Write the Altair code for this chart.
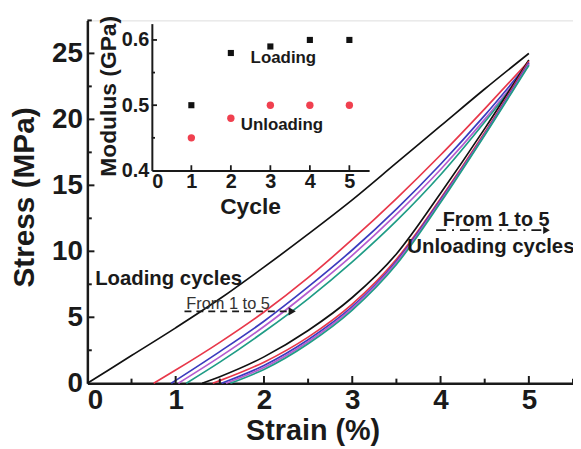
import altair as alt
import pandas as pd

# ---------------- main panel: stress-strain loading / unloading cycles ----------------
load1_strain = [0, 0.5, 1, 1.5, 2, 2.5, 3, 3.5, 4, 4.5, 5]
load1_stress = [0, 2.1, 4.2, 6.4, 8.8, 11.3, 13.9, 16.7, 19.5, 22.3, 25.0]

load2_strain = [0.75, 1, 1.5, 2, 2.5, 3, 3.5, 4, 4.5, 5]
load2_stress = [0, 1.0, 3.1, 5.4, 8.0, 10.9, 14.0, 17.3, 20.8, 24.4]

load3_strain = [0.95, 1.5, 2, 2.5, 3, 3.5, 4, 4.5, 5]
load3_stress = [0, 2.4, 4.7, 7.3, 10.1, 13.2, 16.6, 20.3, 24.3]

load4_strain = [1.03, 1.5, 2, 2.5, 3, 3.5, 4, 4.5, 5]
load4_stress = [0, 2.0, 4.3, 6.9, 9.7, 12.8, 16.2, 20.0, 24.2]

load5_strain = [1.12, 1.5, 2, 2.5, 3, 3.5, 4, 4.5, 5]
load5_stress = [0, 1.6, 3.9, 6.4, 9.2, 12.3, 15.8, 19.8, 24.1]

unload1_strain = [1.3, 1.5, 2, 2.5, 3, 3.5, 4, 4.5, 5]
unload1_stress = [0, 0.5, 2.0, 4.0, 6.5, 9.8, 14.4, 19.3, 24.5]

unload2_strain = [1.42, 1.5, 2, 2.5, 3, 3.5, 4, 4.5, 5]
unload2_stress = [0, 0.2, 1.6, 3.5, 6.0, 9.4, 14.0, 19.0, 24.4]

unload3_strain = [1.52, 2, 2.5, 3, 3.5, 4, 4.5, 5]
unload3_stress = [0, 1.35, 3.3, 5.8, 9.25, 13.9, 18.9, 24.3]

unload4_strain = [1.57, 2, 2.5, 3, 3.5, 4, 4.5, 5]
unload4_stress = [0, 1.2, 3.15, 5.7, 9.15, 13.8, 18.85, 24.2]

unload5_strain = [1.62, 2, 2.5, 3, 3.5, 4, 4.5, 5]
unload5_stress = [0, 1.05, 3.0, 5.55, 9.0, 13.7, 18.8, 24.1]

curve_names = ["load1", "load2", "load3", "load4", "load5",
               "unload1", "unload2", "unload3", "unload4", "unload5"]
curve_colors = ["#111111", "#e8384a", "#3b3bbf", "#b55ccf", "#1f9c86",
                "#111111", "#e8384a", "#3b3bbf", "#b55ccf", "#1f9c86"]

# axis tick values
x_major = [1, 2, 3, 4, 5]
x_minor = [0.5, 1.5, 2.5, 3.5, 4.5, 5.5]
y_major = [5, 10, 15, 20, 25]
y_minor = [2.5, 7.5, 12.5, 17.5, 22.5, 27.5]

# ---------------- inset: modulus vs cycle ----------------
cycles = [1, 2, 3, 4, 5]
modulus_loading = [0.50, 0.58, 0.59, 0.60, 0.60]
modulus_unloading = [0.45, 0.48, 0.50, 0.50, 0.50]
inset_x_ticks = [1, 2, 3, 4, 5]
inset_y_major = [0.5, 0.6]
inset_y_minor = [0.45, 0.55]

# ---------------- build tables ----------------
series = [
    (load1_strain, load1_stress), (load2_strain, load2_stress), (load3_strain, load3_stress),
    (load4_strain, load4_stress), (load5_strain, load5_stress),
    (unload1_strain, unload1_stress), (unload2_strain, unload2_stress),
    (unload3_strain, unload3_stress), (unload4_strain, unload4_stress),
    (unload5_strain, unload5_stress),
]
rows = []
for name, (xs, ys) in zip(curve_names, series):
    for i, (a, b) in enumerate(zip(xs, ys)):
        rows.append({"curve": name, "strain": a, "stress": b, "i": i})
curves_df = pd.DataFrame(rows)

FONT = "Liberation Sans"
INK = "#1a1a1a"
W, H = 489.5, 365.75

xs_main = alt.Scale(domain=[0, 5.5], nice=False, zero=False)
ys_main = alt.Scale(domain=[0, 27.5], nice=False, zero=False)

lines = alt.Chart(curves_df).mark_line(strokeWidth=1.7, interpolate="monotone").encode(
    x=alt.X("strain:Q", scale=xs_main,
            axis=alt.Axis(values=[0, 1, 2, 3, 4, 5], format="d", grid=False, ticks=False, tickSize=0,
                          labelFont=FONT, labelFontSize=28, labelFontWeight="bold", labelColor=INK,
                          labelPadding=3, domainColor=INK, domainWidth=2.5,
                          title="Strain (%)", titleFont=FONT, titleFontSize=29, titleFontWeight="bold",
                          titleColor=INK, titleX=227, titleY=57, titleBaseline="alphabetic")),
    y=alt.Y("stress:Q", scale=ys_main,
            axis=alt.Axis(values=[0, 5, 10, 15, 20, 25], format="d", grid=False, ticks=False, tickSize=0,
                          labelFont=FONT, labelFontSize=28, labelFontWeight="bold", labelColor=INK,
                          labelPadding=5, domainColor=INK, domainWidth=2.5,
                          title="Stress (MPa)", titleFont=FONT, titleFontSize=30, titleFontWeight="bold",
                          titleColor=INK, titleX=-54, titleY=178, titleBaseline="alphabetic")),
    color=alt.Color("curve:N", scale=alt.Scale(domain=curve_names, range=curve_colors), legend=None),
    order=alt.Order("i:Q"),
)

xt_major = alt.Chart(pd.DataFrame({"strain": x_major})).mark_rule(color=INK, strokeWidth=2).encode(
    x=alt.X("strain:Q", scale=xs_main), y=alt.Y(datum=0, scale=ys_main), y2=alt.Y2(datum=0.55))
xt_minor = alt.Chart(pd.DataFrame({"strain": x_minor})).mark_rule(color=INK, strokeWidth=2).encode(
    x=alt.X("strain:Q", scale=xs_main), y=alt.Y(datum=0, scale=ys_main), y2=alt.Y2(datum=0.35))
yt_major = alt.Chart(pd.DataFrame({"stress": y_major})).mark_rule(color=INK, strokeWidth=2).encode(
    y=alt.Y("stress:Q", scale=ys_main), x=alt.X(datum=0, scale=xs_main), x2=alt.X2(datum=0.08))
yt_minor = alt.Chart(pd.DataFrame({"stress": y_minor})).mark_rule(color=INK, strokeWidth=2).encode(
    y=alt.Y("stress:Q", scale=ys_main), x=alt.X(datum=0, scale=xs_main), x2=alt.X2(datum=0.05))

def main_text(label, sx, sy, size, weight="bold", align="center", color=INK):
    return alt.Chart(pd.DataFrame({"strain": [sx], "stress": [sy], "t": [label]})).mark_text(
        font=FONT, fontSize=size, fontWeight=weight, align=align, baseline="middle", color=color
    ).encode(x=alt.X("strain:Q", scale=xs_main), y=alt.Y("stress:Q", scale=ys_main), text="t:N")

t_loading = main_text("Loading cycles", 0.92, 7.9, 20.5)
t_from_left = main_text("From 1 to 5", 1.12, 6.0, 16.5, weight="normal", align="left", color="#333333")
t_from_right = main_text("From 1 to 5", 4.63, 12.4, 20)
t_unloading = main_text("Unloading cycles", 4.57, 10.3, 20.5)

arrow_left = alt.Chart(pd.DataFrame({"a": [1.1], "b": [2.3], "y": [5.45]})).mark_rule(
    color=INK, strokeWidth=1.6, strokeDash=[7, 5]).encode(
    x=alt.X("a:Q", scale=xs_main), x2="b:Q", y=alt.Y("y:Q", scale=ys_main))
head_left = alt.Chart(pd.DataFrame({"a": [2.32], "y": [5.45]})).mark_point(
    shape="triangle-right", filled=True, size=70, color=INK, opacity=1).encode(
    x=alt.X("a:Q", scale=xs_main), y=alt.Y("y:Q", scale=ys_main))
arrow_right = alt.Chart(pd.DataFrame({"a": [3.95], "b": [5.15], "y": [11.6]})).mark_rule(
    color=INK, strokeWidth=1.8, strokeDash=[10, 6, 2, 6]).encode(
    x=alt.X("a:Q", scale=xs_main), x2="b:Q", y=alt.Y("y:Q", scale=ys_main))
head_right = alt.Chart(pd.DataFrame({"a": [5.2], "y": [11.6]})).mark_point(
    shape="triangle-right", filled=True, size=60, color=INK, opacity=1).encode(
    x=alt.X("a:Q", scale=xs_main), y=alt.Y("y:Q", scale=ys_main))

main = alt.layer(lines, xt_major, xt_minor, yt_major, yt_minor,
                 t_loading, t_from_left, arrow_left, head_left,
                 t_from_right, arrow_right, head_right, t_unloading)

# ---------------- inset ----------------
xs_in = alt.Scale(domain=[0, 5.5], range=[65, 284], nice=False, zero=False)
ys_in = alt.Scale(domain=[0.4, 0.625], range=[151.25, 3.25], nice=False, zero=False)

inset_df = pd.DataFrame({"cycle": cycles, "load": modulus_loading, "unload": modulus_unloading})

pts_load = alt.Chart(inset_df).mark_square(size=38, color="#111111", opacity=1).encode(
    x=alt.X("cycle:Q", scale=xs_in,
            axis=alt.Axis(orient="bottom", offset=-214.5, values=[0, 1, 2, 3, 4, 5], format="d",
                          grid=False, ticks=False, tickSize=0,
                          labelFont=FONT, labelFontSize=20, labelFontWeight="bold", labelColor=INK,
                          labelPadding=1, domainColor=INK, domainWidth=2,
                          title="Cycle", titleFont=FONT, titleFontSize=23, titleFontWeight="bold",
                          titleColor=INK, titleX=164, titleY=43, titleBaseline="alphabetic")),
    y=alt.Y("load:Q", scale=ys_in,
            axis=alt.Axis(orient="left", offset=-65, values=[0.4, 0.5, 0.6], format=".1f",
                          grid=False, ticks=False, tickSize=0,
                          labelFont=FONT, labelFontSize=20, labelFontWeight="bold", labelColor=INK,
                          labelPadding=3, domainColor=INK, domainWidth=2,
                          title="Modulus (GPa)", titleFont=FONT, titleFontSize=23, titleFontWeight="bold",
                          titleColor=INK, titleX=-37, titleY=76, titleBaseline="alphabetic")),
)
pts_unload = alt.Chart(inset_df).mark_circle(size=55, color="#f0404f", opacity=1).encode(
    x=alt.X("cycle:Q", scale=xs_in), y=alt.Y("unload:Q", scale=ys_in))

in_xt = alt.Chart(pd.DataFrame({"cycle": inset_x_ticks})).mark_rule(color=INK, strokeWidth=1.8).encode(
    x=alt.X("cycle:Q", scale=xs_in), y=alt.Y(datum=0.4, scale=ys_in), y2=alt.Y2(datum=0.408))
in_yt_major = alt.Chart(pd.DataFrame({"load": inset_y_major})).mark_rule(color=INK, strokeWidth=1.8).encode(
    y=alt.Y("load:Q", scale=ys_in), x=alt.X(datum=0, scale=xs_in), x2=alt.X2(datum=0.13))
in_yt_minor = alt.Chart(pd.DataFrame({"load": inset_y_minor})).mark_rule(color=INK, strokeWidth=1.8).encode(
    y=alt.Y("load:Q", scale=ys_in), x=alt.X(datum=0, scale=xs_in), x2=alt.X2(datum=0.08))

def inset_text(label, cx, cy):
    return alt.Chart(pd.DataFrame({"cycle": [cx], "load": [cy], "t": [label]})).mark_text(
        font=FONT, fontSize=17, fontWeight="bold", align="left", baseline="middle", color=INK
    ).encode(x=alt.X("cycle:Q", scale=xs_in), y=alt.Y("load:Q", scale=ys_in), text="t:N")

in_t_load = inset_text("Loading", 2.5, 0.5725)
in_t_unload = inset_text("Unloading", 2.25, 0.470)

inset = alt.layer(pts_load, pts_unload, in_xt, in_yt_major, in_yt_minor, in_t_load, in_t_unload)

chart = alt.layer(main, inset).resolve_scale(x="independent", y="independent").properties(
    width=W, height=H,
    autosize=alt.AutoSizeParams(type="none"),
    padding={"left": 80, "top": 10.75, "right": 0, "bottom": 64},
).configure_view(stroke=None).configure(background="white")

chart.save("out.html", embed_options={"renderer": "svg", "actions": False})
